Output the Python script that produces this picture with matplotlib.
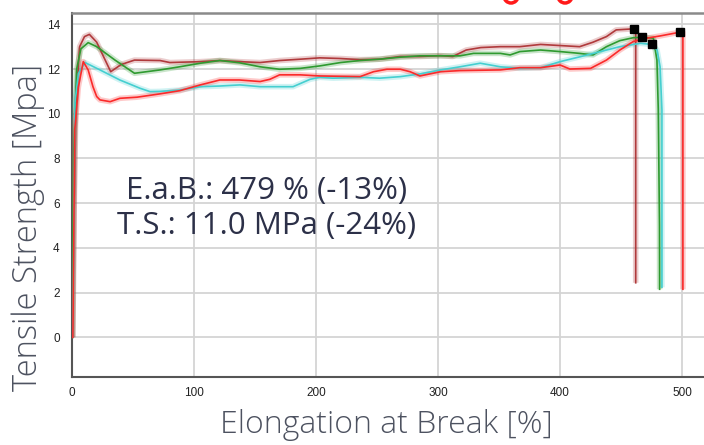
import matplotlib.pyplot as plt
from matplotlib.patches import Circle

# tensile test curves (elongation %, strength MPa)
darkred_x = [0, 1, 3, 6, 10, 14, 20, 31.5, 40, 51, 72, 80, 105, 121, 137, 154, 170, 187,
             203, 220, 236, 252, 269, 285, 302, 312, 323, 335, 351, 367, 384, 400, 416,
             427, 438, 446, 460.8, 462, 462]
darkred_y = [0, 4, 10.5, 13.0, 13.45, 13.55, 13.2, 11.88, 12.2, 12.4, 12.38, 12.29, 12.33,
             12.38, 12.33, 12.29, 12.38, 12.44, 12.5, 12.47, 12.42, 12.44, 12.56, 12.56,
             12.6, 12.56, 12.85, 12.96, 13.0, 13.0, 13.1, 13.05, 13.0, 13.2, 13.45, 13.75,
             13.8, 13.8, 2.44]

green_x = [0, 1, 3.6, 7, 13, 20, 35, 51, 72, 88, 105, 121, 137, 154, 170, 187, 203, 220,
           236, 252, 269, 285, 302, 318, 329, 351, 359, 367, 384, 400, 416, 427, 438, 449,
           460, 467, 476.5, 479.4, 480.5, 481.5, 481.6]
green_y = [0, 8, 12.0, 12.9, 13.18, 13.0, 12.4, 11.81, 11.96, 12.1, 12.26, 12.38, 12.28,
           12.1, 11.99, 12.03, 12.14, 12.29, 12.38, 12.44, 12.53, 12.59, 12.59, 12.59, 12.7,
           12.7, 12.63, 12.78, 12.85, 12.78, 12.7, 12.63, 13.0, 13.27, 13.4, 13.42, 13.38,
           12.4, 10.2, 5, 2.15]

red_x = [0.5, 2, 5, 9, 13, 17, 20, 22.7, 31, 39, 53, 72, 88, 105, 121, 137, 154, 162, 170,
         187, 203, 236, 247, 258, 269, 277, 285, 293, 302, 318, 351, 367, 384, 400, 408,
         425, 438, 449, 460, 471, 482, 498.5, 500.7, 500.7]
red_y = [0, 9.3, 11.2, 12.33, 11.96, 11.2, 10.77, 10.62, 10.54, 10.69, 10.74, 10.89,
         11.03, 11.29, 11.51, 11.51, 11.44, 11.54, 11.74, 11.74, 11.69, 11.66, 11.88, 11.99,
         11.99, 11.88, 11.69, 11.78, 11.88, 11.93, 11.96, 12.06, 12.06, 12.18, 12.0, 12.03,
         12.4, 12.85, 13.23, 13.38, 13.48, 13.65, 13.65, 2.15]

cyan_x = [0.5, 2.2, 5, 10.4, 22.7, 39, 55.5, 63.7, 72, 88, 105, 121, 137.5, 154, 170, 181,
          195, 203, 214, 236, 252, 269, 285, 302, 318, 334.5, 351, 367, 384, 400, 416.5,
          433, 449, 466, 475, 479.5, 482, 483.5, 483.5]
cyan_y = [0, 10.5, 11.8, 12.29, 11.96, 11.51, 11.14, 10.99, 11.0, 11.06, 11.21, 11.24,
          11.29, 11.21, 11.21, 11.21, 11.54, 11.63, 11.59, 11.63, 11.59, 11.66, 11.78,
          11.96, 12.1, 12.26, 12.1, 12.03, 12.06, 12.33, 12.55, 12.78, 13.0, 13.15, 13.1,
          12.85, 12.1, 10.17, 2.24]

# break points (black squares)
break_x = [460.8, 467, 475, 498.5]
break_y = [13.81, 13.42, 13.1, 13.65]

x_ticks = [0, 100, 200, 300, 400, 500]
y_ticks = [0, 2, 4, 6, 8, 10, 12, 14]

fig = plt.figure(figsize=(7.04, 4.45), dpi=100)
ax = fig.add_axes([0.1027, 0.152, 0.8973, 0.8195])

series = [
    (darkred_x, darkred_y, '#b03a3c'),
    (green_x, green_y, '#2f9a30'),
    (cyan_x, cyan_y, '#45cfd0'),
    (red_x, red_y, '#fb2a2a'),
]
for xs, ys, c in series:
    ax.plot(xs, ys, color=c, lw=4, alpha=0.25, solid_capstyle='butt', zorder=3)
    ax.plot(xs, ys, color=c, lw=1.2, zorder=4)

ax.plot(break_x, break_y, 's', color='black', ms=6, zorder=5, ls='none')

ax.set_xlim(0, 518)
ax.set_ylim(-1.79, 14.52)
ax.set_xticks(x_ticks)
ax.set_yticks(y_ticks)
ax.grid(True, color='#d4d4d4', lw=1.3)
ax.set_axisbelow(True)
ax.tick_params(length=0, labelsize=8.5, colors='#222222', pad=9)
ax.tick_params(axis='x', pad=7)
for lab in ax.get_xticklabels() + ax.get_yticklabels():
    lab.set_family('Liberation Sans')

ax.spines['right'].set_visible(False)
ax.spines['top'].set_color('#8a8a8a')
ax.spines['top'].set_linewidth(1.8)
ax.spines['left'].set_color('#555555')
ax.spines['left'].set_linewidth(1.5)
ax.spines['bottom'].set_color('#555555')
ax.spines['bottom'].set_linewidth(1.5)

ax.set_ylabel('Tensile Strength [Mpa]', family='Open Sans', fontsize=23.5,
              color='#4d5260', weight='light')
ax.yaxis.set_label_coords(-0.043, 0.41)
ax.set_xlabel('Elongation at Break [%]', family='Open Sans', fontsize=23,
              color='#4d5260', weight='light')
ax.xaxis.set_label_coords(0.497, -0.087)

ax.text(159, 6.2, 'E.a.B.: 479 % (-13%)', ha='center', va='baseline', family='Open Sans',
        fontsize=22.5, color='#2c3048')
ax.text(159, 4.6, 'T.S.: 11.0 MPa (-24%)', ha='center', va='baseline', family='Open Sans',
        fontsize=22.5, color='#2c3048')

# partly visible red circles at the top edge
for cx in [511, 565]:
    fig.patches.append(Circle((cx, 445 + 4), 7, transform=None, fill=False,
                              edgecolor='#ff1a1a', lw=2.5))

fig.savefig('out.png', dpi=100)
